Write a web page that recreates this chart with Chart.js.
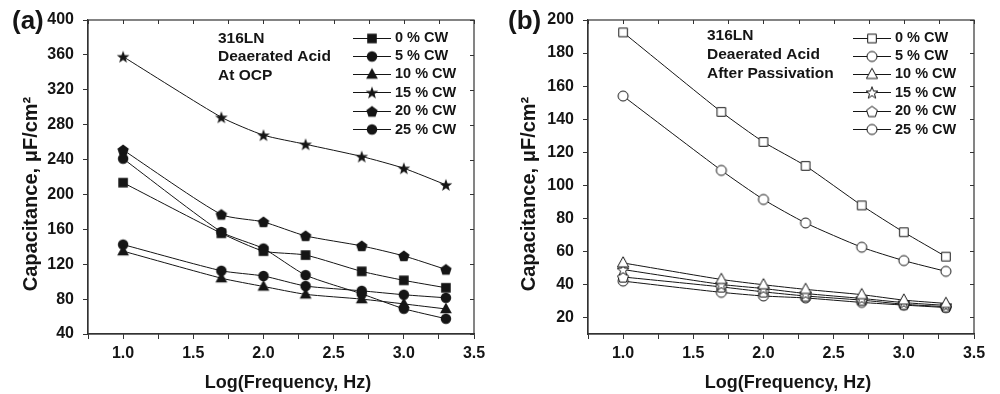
<!DOCTYPE html>
<html>
<head>
<meta charset="utf-8">
<script src="https://cdn.jsdelivr.net/npm/chart.js@4.4.1/dist/chart.umd.min.js"></script>
<style>
  html, body { margin: 0; padding: 0; background: #fff; }
  #wrap { display: flex; width: 1000px; height: 394px; }
  canvas { display: block; }
</style>
</head>
<body>
<div id="wrap">
  <canvas id="chartA" width="500" height="394"></canvas>
  <canvas id="chartB" width="500" height="394"></canvas>
</div>
<script>
// ---------------- DATA ----------------
const logFreq = [1.0, 1.7, 2.0, 2.3, 2.7, 3.0, 3.3];
const seriesLabels = ['0 % CW', '5 % CW', '10 % CW', '15 % CW', '20 % CW', '25 % CW'];
const markerShapes = ['square', 'circle', 'triangle', 'star', 'pentagon', 'circle'];

// (a) At OCP
const ocpCW0  = [213.5, 155.5, 135.0, 130.5, 111.8, 101.5, 93.0];
const ocpCW5  = [241.0, 157.0, 138.0, 107.5, 86.0, 69.0, 57.5];
const ocpCW10 = [135.0, 104.0, 94.5, 85.5, 80.0, 74.5, 68.7];
const ocpCW15 = [358.0, 288.5, 268.0, 257.5, 243.5, 230.0, 211.0];
const ocpCW20 = [251.0, 177.0, 168.5, 152.5, 141.0, 129.5, 114.0];
const ocpCW25 = [142.5, 112.5, 106.5, 95.0, 89.5, 85.0, 81.5];

// (b) After passivation
const pasCW0  = [192.5, 144.4, 126.2, 111.7, 87.8, 71.6, 56.8];
const pasCW5  = [154.0, 109.0, 91.4, 77.2, 62.5, 54.4, 47.9];
const pasCW10 = [53.0, 43.0, 39.8, 37.0, 33.8, 30.5, 28.5];
const pasCW15 = [49.0, 40.0, 37.5, 34.5, 31.5, 29.0, 27.3];
const pasCW20 = [44.5, 38.5, 35.5, 33.0, 30.5, 28.0, 26.5];
const pasCW25 = [42.0, 35.2, 33.0, 31.8, 29.1, 27.5, 26.0];

const yTicksA = [40, 80, 120, 160, 200, 240, 280, 320, 360, 400];
const yTicksB = [20, 40, 60, 80, 100, 120, 140, 160, 180, 200];
const xTickLabels = ['1.0', '1.5', '2.0', '2.5', '3.0', '3.5'];

const notesA = ['316LN', 'Deaerated Acid', 'At OCP'];
const notesB = ['316LN', 'Deaerated Acid', 'After Passivation'];
const panelA = '(a)';
const panelB = '(b)';
const xTitle = 'Log(Frequency, Hz)';
const yTitle = 'Capacitance, \u03BCF/cm\u00B2';

// ---------------- STYLE HELPERS ----------------
const INK = '#151515';
const FONT = '"Liberation Sans", Arial, Helvetica, sans-serif';

function makeMarker(shape, filled) {
  const s = 16;
  const c = document.createElement('canvas');
  c.width = s; c.height = s;
  const g = c.getContext('2d');
  g.translate(s / 2, s / 2);
  g.beginPath();
  const big = filled ? 1.05 : 1.0;
  if (shape === 'square') {
    const h = (filled ? 4.8 : 4.3);
    g.rect(-h, -h, 2 * h, 2 * h);
  } else if (shape === 'circle') {
    g.arc(0, 0, 5.0 * big, 0, Math.PI * 2);
  } else if (shape === 'triangle') {
    g.moveTo(0, -6.2 * big); g.lineTo(5.6 * big, 4.0 * big); g.lineTo(-5.6 * big, 4.0 * big); g.closePath();
  } else if (shape === 'star') {
    for (let i = 0; i < 10; i++) {
      const r = i % 2 ? 2.6 * big : 6.3 * big;
      const a = -Math.PI / 2 + i * Math.PI / 5;
      const px = r * Math.cos(a), py = r * Math.sin(a) + 0.6;
      if (i === 0) g.moveTo(px, py); else g.lineTo(px, py);
    }
    g.closePath();
  } else if (shape === 'pentagon') {
    for (let i = 0; i < 5; i++) {
      const a = -Math.PI / 2 + i * 2 * Math.PI / 5;
      const px = 5.7 * big * Math.cos(a), py = 5.7 * big * Math.sin(a) + 0.5;
      if (i === 0) g.moveTo(px, py); else g.lineTo(px, py);
    }
    g.closePath();
  }
  if (filled) {
    g.fillStyle = INK; g.fill();
  } else {
    g.fillStyle = '#fff'; g.fill();
    g.strokeStyle = INK; g.lineWidth = 1; g.stroke();
  }
  return c;
}

function buildDatasets(seriesList, filled) {
  return seriesList.map((vals, i) => ({
    label: seriesLabels[i],
    data: logFreq.map((x, k) => ({ x: x, y: vals[k] })),
    borderColor: INK,
    borderWidth: 1,
    backgroundColor: INK,
    pointStyle: makeMarker(markerShapes[i], filled),
    pointRadius: 6,
    tension: 0.2,
    fill: false
  }));
}

function decorPlugin(cfg) {
  return {
    id: 'decor' + cfg.panel,
    afterDatasetsDraw(chart) {
      const { ctx, chartArea: a, scales } = chart;
      ctx.save();
      // frame
      ctx.strokeStyle = '#333';
      ctx.lineWidth = 1.2;
      ctx.strokeRect(a.left, a.top, a.right - a.left, a.bottom - a.top);
      // inward ticks on top and right
      ctx.lineWidth = 1;
      ctx.beginPath();
      scales.x.ticks.forEach(t => {
        const px = Math.round(scales.x.getPixelForValue(t.value)) + 0.5;
        ctx.moveTo(px, a.top); ctx.lineTo(px, a.top + 4);
      });
      scales.y.ticks.forEach(t => {
        const py = Math.round(scales.y.getPixelForValue(t.value)) + 0.5;
        ctx.moveTo(a.right, py); ctx.lineTo(a.right - 4, py);
      });
      ctx.stroke();

      ctx.fillStyle = INK;
      // panel label
      ctx.font = 'bold 26px ' + FONT;
      ctx.textAlign = 'left';
      ctx.textBaseline = 'middle';
      ctx.fillText(cfg.panel, cfg.panelX, 22);

      // notes
      ctx.font = 'bold 15.5px ' + FONT;
      cfg.notes.forEach((t, i) => ctx.fillText(t, cfg.noteX, cfg.noteY[i]));

      // legend
      const rows = [37.5, 55.5, 73.8, 92.2, 110.6, 129];
      chart.data.datasets.forEach((ds, i) => {
        const y = rows[i];
        ctx.strokeStyle = INK; ctx.lineWidth = 1;
        ctx.beginPath();
        ctx.moveTo(353, Math.round(y) + 0.5); ctx.lineTo(391, Math.round(y) + 0.5);
        ctx.stroke();
        const m = ds.pointStyle;
        ctx.drawImage(m, 372 - m.width / 2, Math.round(y) + 0.5 - m.height / 2);
        ctx.font = 'bold 14.5px ' + FONT;
        ctx.fillStyle = INK;
        ctx.textBaseline = 'middle';
        ctx.fillText(ds.label, 395, y + 0.5);
      });

      // axis titles
      ctx.font = 'bold 18px ' + FONT;
      ctx.textAlign = 'center';
      ctx.textBaseline = 'middle';
      ctx.fillText(xTitle, 288, 383);

      ctx.save();
      ctx.translate(cfg.yTitleX, 194);
      ctx.rotate(-Math.PI / 2);
      ctx.font = 'bold 20px ' + FONT;
      ctx.fillText(yTitle, 0, 0);
      ctx.restore();

      ctx.restore();
    }
  };
}

function makeChart(id, datasets, yMin, yMax, yTicks, cfg) {
  return new Chart(document.getElementById(id), {
    type: 'line',
    data: { datasets: datasets },
    options: {
      responsive: false,
      animation: false,
      events: [],
      layout: { padding: { top: 20, right: 26, left: 0, bottom: 0 } },
      plugins: { legend: { display: false }, tooltip: { enabled: false }, title: { display: false } },
      scales: {
        x: {
          type: 'linear',
          min: 0.75, max: 3.5,
          afterFit(s) { s.height = 60; },
          afterBuildTicks(s) {
            const t = [];
            for (let k = 0; k <= 11; k++) t.push({ value: 0.75 + 0.25 * k });
            s.ticks = t;
          },
          ticks: {
            autoSkip: false, maxRotation: 0, minRotation: 0,
            padding: 5,
            color: INK,
            font: { family: FONT, size: 16, weight: 'bold' },
            callback(v) {
              const idx = Math.round((v - 1.0) / 0.5);
              return Math.abs(v - (1.0 + idx * 0.5)) < 1e-6 && idx >= 0 ? xTickLabels[idx] : '';
            }
          },
          grid: { drawOnChartArea: false, drawTicks: true, tickLength: 5, color: '#333', lineWidth: 1 },
          border: { display: true, color: '#333', width: 1.2 }
        },
        y: {
          type: 'linear',
          min: yMin, max: yMax,
          afterFit(s) { s.width = 88; },
          afterBuildTicks(s) { s.ticks = yTicks.map(v => ({ value: v })); },
          ticks: {
            autoSkip: false,
            padding: 9,
            color: INK,
            font: { family: FONT, size: 16, weight: 'bold' },
            callback(v) { return String(v); }
          },
          grid: { drawOnChartArea: false, drawTicks: true, tickLength: 5, color: '#333', lineWidth: 1 },
          border: { display: true, color: '#333', width: 1.2 }
        }
      }
    },
    plugins: [decorPlugin(cfg)]
  });
}

makeChart('chartA',
  buildDatasets([ocpCW0, ocpCW5, ocpCW10, ocpCW15, ocpCW20, ocpCW25], true),
  40, 400, yTicksA,
  { panel: panelA, panelX: 12, notes: notesA, noteX: 218, noteY: [38.5, 57, 75.5], yTitleX: 31 });

makeChart('chartB',
  buildDatasets([pasCW0, pasCW5, pasCW10, pasCW15, pasCW20, pasCW25], false),
  10, 200, yTicksB,
  { panel: panelB, panelX: 8, notes: notesB, noteX: 207, noteY: [36, 55, 74], yTitleX: 29 });
</script>
</body>
</html>
